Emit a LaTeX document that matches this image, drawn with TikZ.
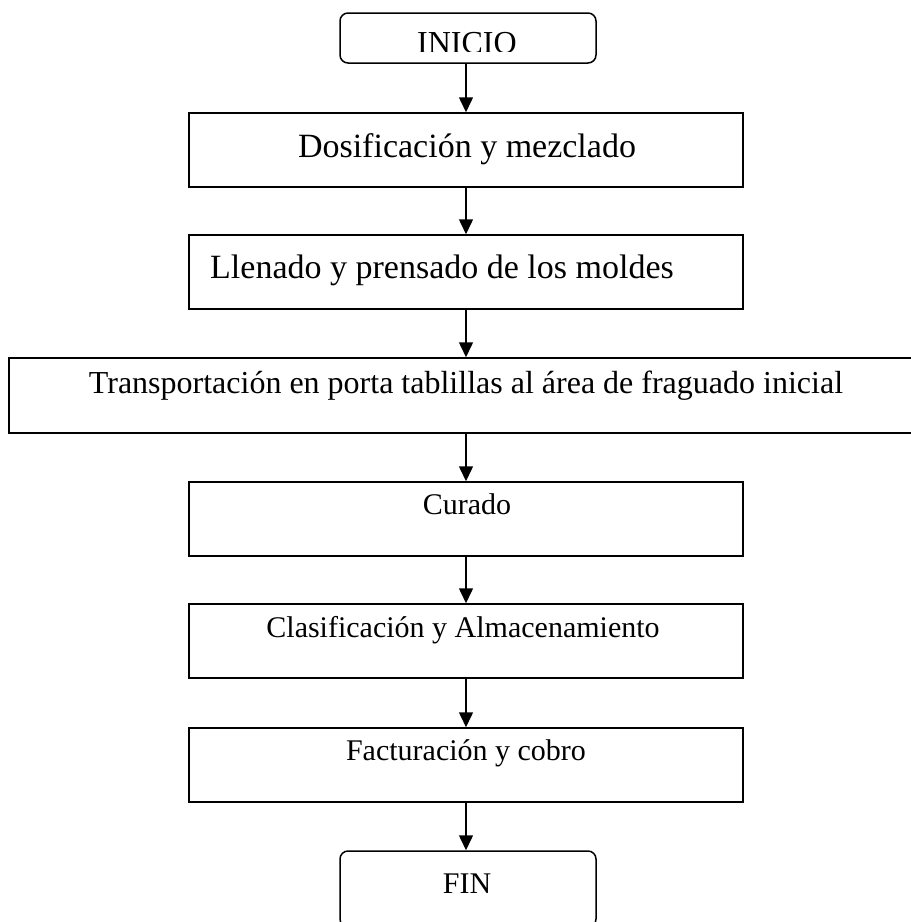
\documentclass[tikz,border=0pt]{standalone}
\usepackage{fontspec}
\setmainfont{Liberation Serif}
\usetikzlibrary{arrows.meta}

\begin{document}
\begin{tikzpicture}[x=1pt,y=-1pt,
  stepbox/.style={draw, line width=1.5pt, inner sep=0pt},
  endbox/.style={stepbox, rounded corners=8pt},
  label/.style={inner sep=0pt, anchor=base, font=\fontsize{30}{36}\selectfont},
  biglabel/.style={label, font=\fontsize{34}{40}\selectfont},
  arr/.style={line width=1.5pt, -{Triangle[length=15pt,width=14pt]}}]
  \useasboundingbox (0,0) rectangle (911,922);

  % process boxes (centre, width, height in px)
  \node[endbox, minimum width=256pt, minimum height=50pt] (ini) at (468,38) {};
  \node[stepbox, minimum width=554pt, minimum height=74pt] (b1) at (466,150) {};
  \node[stepbox, minimum width=554pt, minimum height=74pt] (b2) at (466,272) {};
  \node[stepbox, minimum width=916pt, minimum height=75pt] (b3) at (467,395.5) {};
  \node[stepbox, minimum width=554pt, minimum height=74pt] (b4) at (466,519) {};
  \node[stepbox, minimum width=554pt, minimum height=74pt] (b5) at (466,641) {};
  \node[stepbox, minimum width=554pt, minimum height=74pt] (b6) at (466,765) {};
  \node[endbox, minimum width=256pt, minimum height=76pt] (fin) at (468,889) {};

  % texts
  \begin{scope}
    \clip (340,13) rectangle (596,51);
    \node[label, font=\fontsize{32}{38}\selectfont] (tini) at (467,53) {INICIO};
  \end{scope}
  \node[biglabel] (t1) at (467,157) {Dosificación y mezclado};
  \node[biglabel, anchor=base west] (t2) at (210,278) {Llenado y prensado de los moldes};
  \node[label, font=\fontsize{32}{38}\selectfont] (t3) at (466,393) {Transportación en porta tablillas al área de fraguado inicial};
  \node[label] (t4) at (467,514) {Curado};
  \node[label] (t5) at (463,637) {Clasificación y Almacenamiento};
  \node[label] (t6) at (466,760) {Facturación y cobro};
  \node[label] (tfin) at (467,893) {FIN};

  % connectors
  \draw[arr] (ini.south -| b1.north) -- (b1.north);
  \draw[arr] (b1.south) -- (b2.north);
  \draw[arr] (b2.south) -- (b2.south |- b3.north);
  \draw[arr] (b3.south -| b4.north) -- (b4.north);
  \draw[arr] (b4.south) -- (b5.north);
  \draw[arr] (b5.south) -- (b6.north);
  \draw[arr] (b6.south) -- (b6.south |- fin.north);
\end{tikzpicture}
\end{document}
